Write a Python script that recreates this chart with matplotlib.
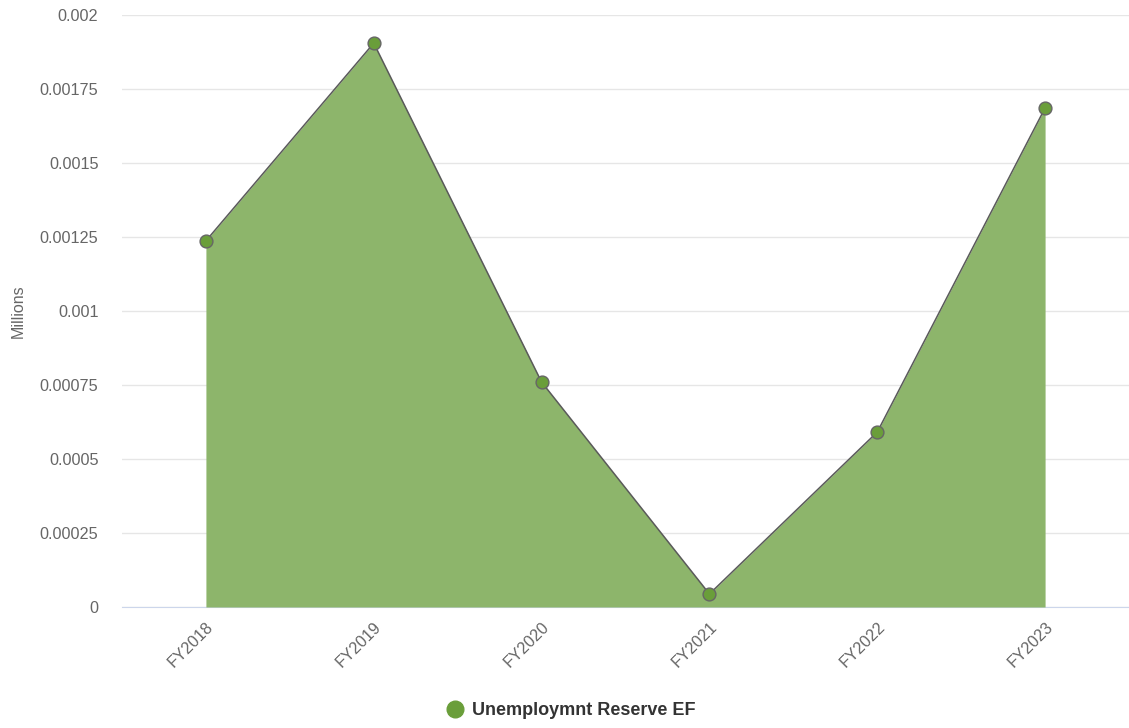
import numpy as np
import matplotlib.pyplot as plt
from matplotlib.lines import Line2D

plt.rcParams['font.family'] = ['Liberation Sans', 'DejaVu Sans']

# data
years = ["FY2018", "FY2019", "FY2020", "FY2021", "FY2022", "FY2023"]
reserve = [0.001237, 0.001905, 0.00076, 0.000044, 0.000591, 0.001686]
series_name = "Unemploymnt Reserve EF"

fill_col = '#8db56b'
marker_col = '#6a9e3a'
line_col = '#5a5a5a'
text_col = '#666666'

fig = plt.figure(figsize=(11.29, 7.28), dpi=100)
ax = fig.add_axes([122/1129, 1 - 607/728, 1 - 122/1129, (607 - 15)/728])

x = np.arange(len(years))
ax.fill_between(x, 0, reserve, color=fill_col, linewidth=0, zorder=2)
ax.plot(x, reserve, color=line_col, linewidth=1.1, zorder=3)
ax.scatter(x, reserve, s=85, color=marker_col, edgecolor='#666666', linewidth=1.0, zorder=4)

ax.set_xlim(-0.5, len(years) - 0.5)
ax.set_ylim(0, 0.002)
yt = np.arange(0, 0.002001, 0.00025)
ax.set_yticks(yt)
ax.set_yticklabels(["0", "0.00025", "0.0005", "0.00075", "0.001",
                    "0.00125", "0.0015", "0.00175", "0.002"])
ax.set_xticks(x)
ax.set_xticklabels(years, rotation=45, ha='right', rotation_mode='anchor')

ax.grid(axis='y', color='#e6e6e6', linewidth=1.0, zorder=0)
ax.set_axisbelow(True)
for s in ['top', 'right', 'left']:
    ax.spines[s].set_visible(False)
ax.spines['bottom'].set_color('#ccd6eb')
ax.spines['bottom'].set_zorder(1)

ax.tick_params(axis='both', length=0, labelsize=11.7, labelcolor=text_col)
ax.tick_params(axis='y', pad=17)
ax.tick_params(axis='x', pad=9)

fig.text(18/1129, 1 - 311/728, "Millions", rotation=90, ha='center', va='center',
         fontsize=11.5, color=text_col)

handle = Line2D([], [], marker='o', linestyle='none', markersize=12,
                markerfacecolor=marker_col, markeredgecolor=marker_col)
leg = ax.legend([handle], [series_name], loc='center', bbox_to_anchor=(0.505, 0.024),
                bbox_transform=fig.transFigure, frameon=False, handletextpad=0.35,
                handlelength=1.2, prop={'weight': 'bold', 'size': 13})
for t in leg.get_texts():
    t.set_color('#333333')

fig.savefig('out.png', dpi=100)
